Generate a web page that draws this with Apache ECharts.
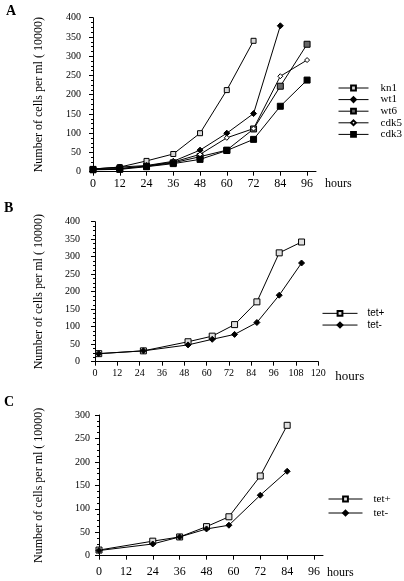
<!DOCTYPE html>
<html><head><meta charset="utf-8">
<script src="https://cdn.jsdelivr.net/npm/echarts@6/dist/echarts.min.js"></script>
<style>html,body{margin:0;padding:0;background:#fff}#c{width:404px;height:581px}</style>
</head><body><div id="c"></div>
<script>
// Panel A
const aHours = [0, 12, 24, 36, 48, 60, 72, 84, 96];
const aKn1  = [7, 12, 28, 46, 100, 212, 340];
const aWt1  = [7, 12, 16, 27, 56, 100, 151, 379];
const aWt6  = [6, 8, 14, 23, 39, 56, 111, 222, 331];
const aCdk5 = [6, 8, 15, 25, 45, 88, 112, 248, 290];
const aCdk3 = [5, 6, 13, 21, 32, 55, 84, 170, 238];
// Panel B
const bHours    = [2, 26, 50, 63, 75, 87, 99, 111];
const bTetPlus  = [23, 31, 57, 73, 106, 171, 311, 342];
const bTetMinus = [23, 31, 48, 64, 78, 112, 190, 282];
// Panel C
const cHours    = [0, 24, 36, 48, 58, 72, 84];
const cTetPlus  = [12, 31, 40, 62, 83, 170, 278];
const cTetMinus = [11, 25, 40, 57, 65, 129, 180];
// Ticks
const hourTicks = [0, 12, 24, 36, 48, 60, 72, 84, 96];
const hourTicksB = [0, 12, 24, 36, 48, 60, 72, 84, 96, 108, 120];

const pairs = (xs, ys) => ys.map((v, i) => [xs[i], v]);
const serif = 'Liberation Serif';
const yTitle = 'Number of cells per ml ( 10000)';

function xAx(gi, max, ticks, fs, margin, namePad, nameGap, nameFs) {
  return {
    gridIndex: gi, type: 'value', min: 0, max: max,
    axisLine: {lineStyle: {color: '#000', width: 1}},
    axisTick: {customValues: ticks, length: 4, lineStyle: {color: '#000'}},
    axisLabel: {customValues: ticks, color: '#000', fontFamily: serif, fontSize: fs, margin: margin},
    splitLine: {show: false},
    name: 'hours', nameLocation: 'end', nameGap: nameGap,
    nameTextStyle: {color: '#000', fontFamily: serif, fontSize: nameFs, align: 'left', verticalAlign: 'top', padding: [namePad, 0, 0, 0]}
  };
}
function yAx(gi, max, margin, nameGap) {
  return {
    gridIndex: gi, type: 'value', min: 0, max: max, interval: 50,
    axisLine: {show: true, lineStyle: {color: '#000', width: 1}},
    axisTick: {show: true, length: 4, lineStyle: {color: '#000'}},
    minorTick: {show: true, splitNumber: 4, length: 2, lineStyle: {color: '#000'}},
    axisLabel: {color: '#000', fontFamily: serif, fontSize: 10, margin: margin},
    splitLine: {show: false},
    name: yTitle, nameLocation: 'middle', nameGap: nameGap, nameRotate: 90,
    nameTextStyle: {color: '#000', fontFamily: serif, fontSize: 12}
  };
}
function ser(name, gi, data, symbol, size, fill) {
  return {
    name: name, type: 'line', xAxisIndex: gi, yAxisIndex: gi, data: data,
    symbol: symbol, symbolSize: size, showAllSymbol: true,
    lineStyle: {color: '#000', width: 1},
    itemStyle: {color: fill, borderColor: '#000', borderWidth: 1},
    emphasis: {disabled: true}, animation: false
  };
}
function leg(names, left, top, w, pad, fs, fam, rowH) {
  return {
    data: names, orient: 'vertical', left: left, top: top, itemWidth: w, itemHeight: 6,
    itemGap: 0, padding: 0, selectedMode: false,
    lineStyle: {width: 1, color: '#000'},
    textStyle: {color: '#000', fontFamily: fam, fontSize: fs, lineHeight: rowH, height: rowH, padding: [0, 0, 0, pad]}
  };
}

const chart = echarts.init(document.getElementById('c'), null, {renderer: 'canvas'});
chart.setOption({
  backgroundColor: '#fff',
  animation: false,
  grid: [
    {left: 93, top: 17.7, width: 223, height: 154},
    {left: 95, top: 221.7, width: 223.3, height: 140},
    {left: 99, top: 415, width: 224, height: 140.7}
  ],
  xAxis: [
    xAx(0, 100, hourTicks, 12, 6, 6, 9, 12),
    xAx(1, 120, hourTicksB, 10, 7, 8, 17, 13),
    xAx(2, 100, hourTicks, 12, 10, 11, 4, 12)
  ],
  yAxis: [
    yAx(0, 400, 12, 48),
    yAx(1, 400, 15, 50),
    yAx(2, 300, 9, 54)
  ],
  legend: [
    leg(['kn1', 'wt1', 'wt6', 'cdk5', 'cdk3'], 338, 82.2, 30, 7, 11, serif, 11.6),
    leg(['tet+', 'tet-'], 322, 307.5, 35, 5, 10, 'Liberation Sans', 11.7),
    leg(['tet+', 'tet-'], 328, 492, 34, 6, 11, serif, 14)
  ],
  series: [
    ser('kn1', 0, pairs(aHours, aKn1), 'rect', 5, '#d8d8d8'),
    ser('wt1', 0, pairs(aHours, aWt1), 'diamond', 6, '#000'),
    ser('wt6', 0, pairs(aHours, aWt6), 'rect', 6, '#666'),
    ser('cdk5', 0, pairs(aHours, aCdk5), 'diamond', 5, '#fff'),
    ser('cdk3', 0, pairs(aHours, aCdk3), 'rect', 6, '#000'),
    ser('tet+', 1, pairs(bHours, bTetPlus), 'rect', 6, '#e0e0e0'),
    ser('tet-', 1, pairs(bHours, bTetMinus), 'diamond', 6, '#000'),
    ser('tet+', 2, pairs(cHours, cTetPlus), 'rect', 6, '#e0e0e0'),
    ser('tet-', 2, pairs(cHours, cTetMinus), 'diamond', 6, '#000')
  ],
  graphic: [
    {type: 'text', left: 6, top: 4, style: {text: 'A', font: 'bold 14px "Liberation Serif"', fill: '#000'}},
    {type: 'text', left: 4, top: 201, style: {text: 'B', font: 'bold 14px "Liberation Serif"', fill: '#000'}},
    {type: 'text', left: 4, top: 395, style: {text: 'C', font: 'bold 14px "Liberation Serif"', fill: '#000'}}
  ]
});
</script></body></html>
